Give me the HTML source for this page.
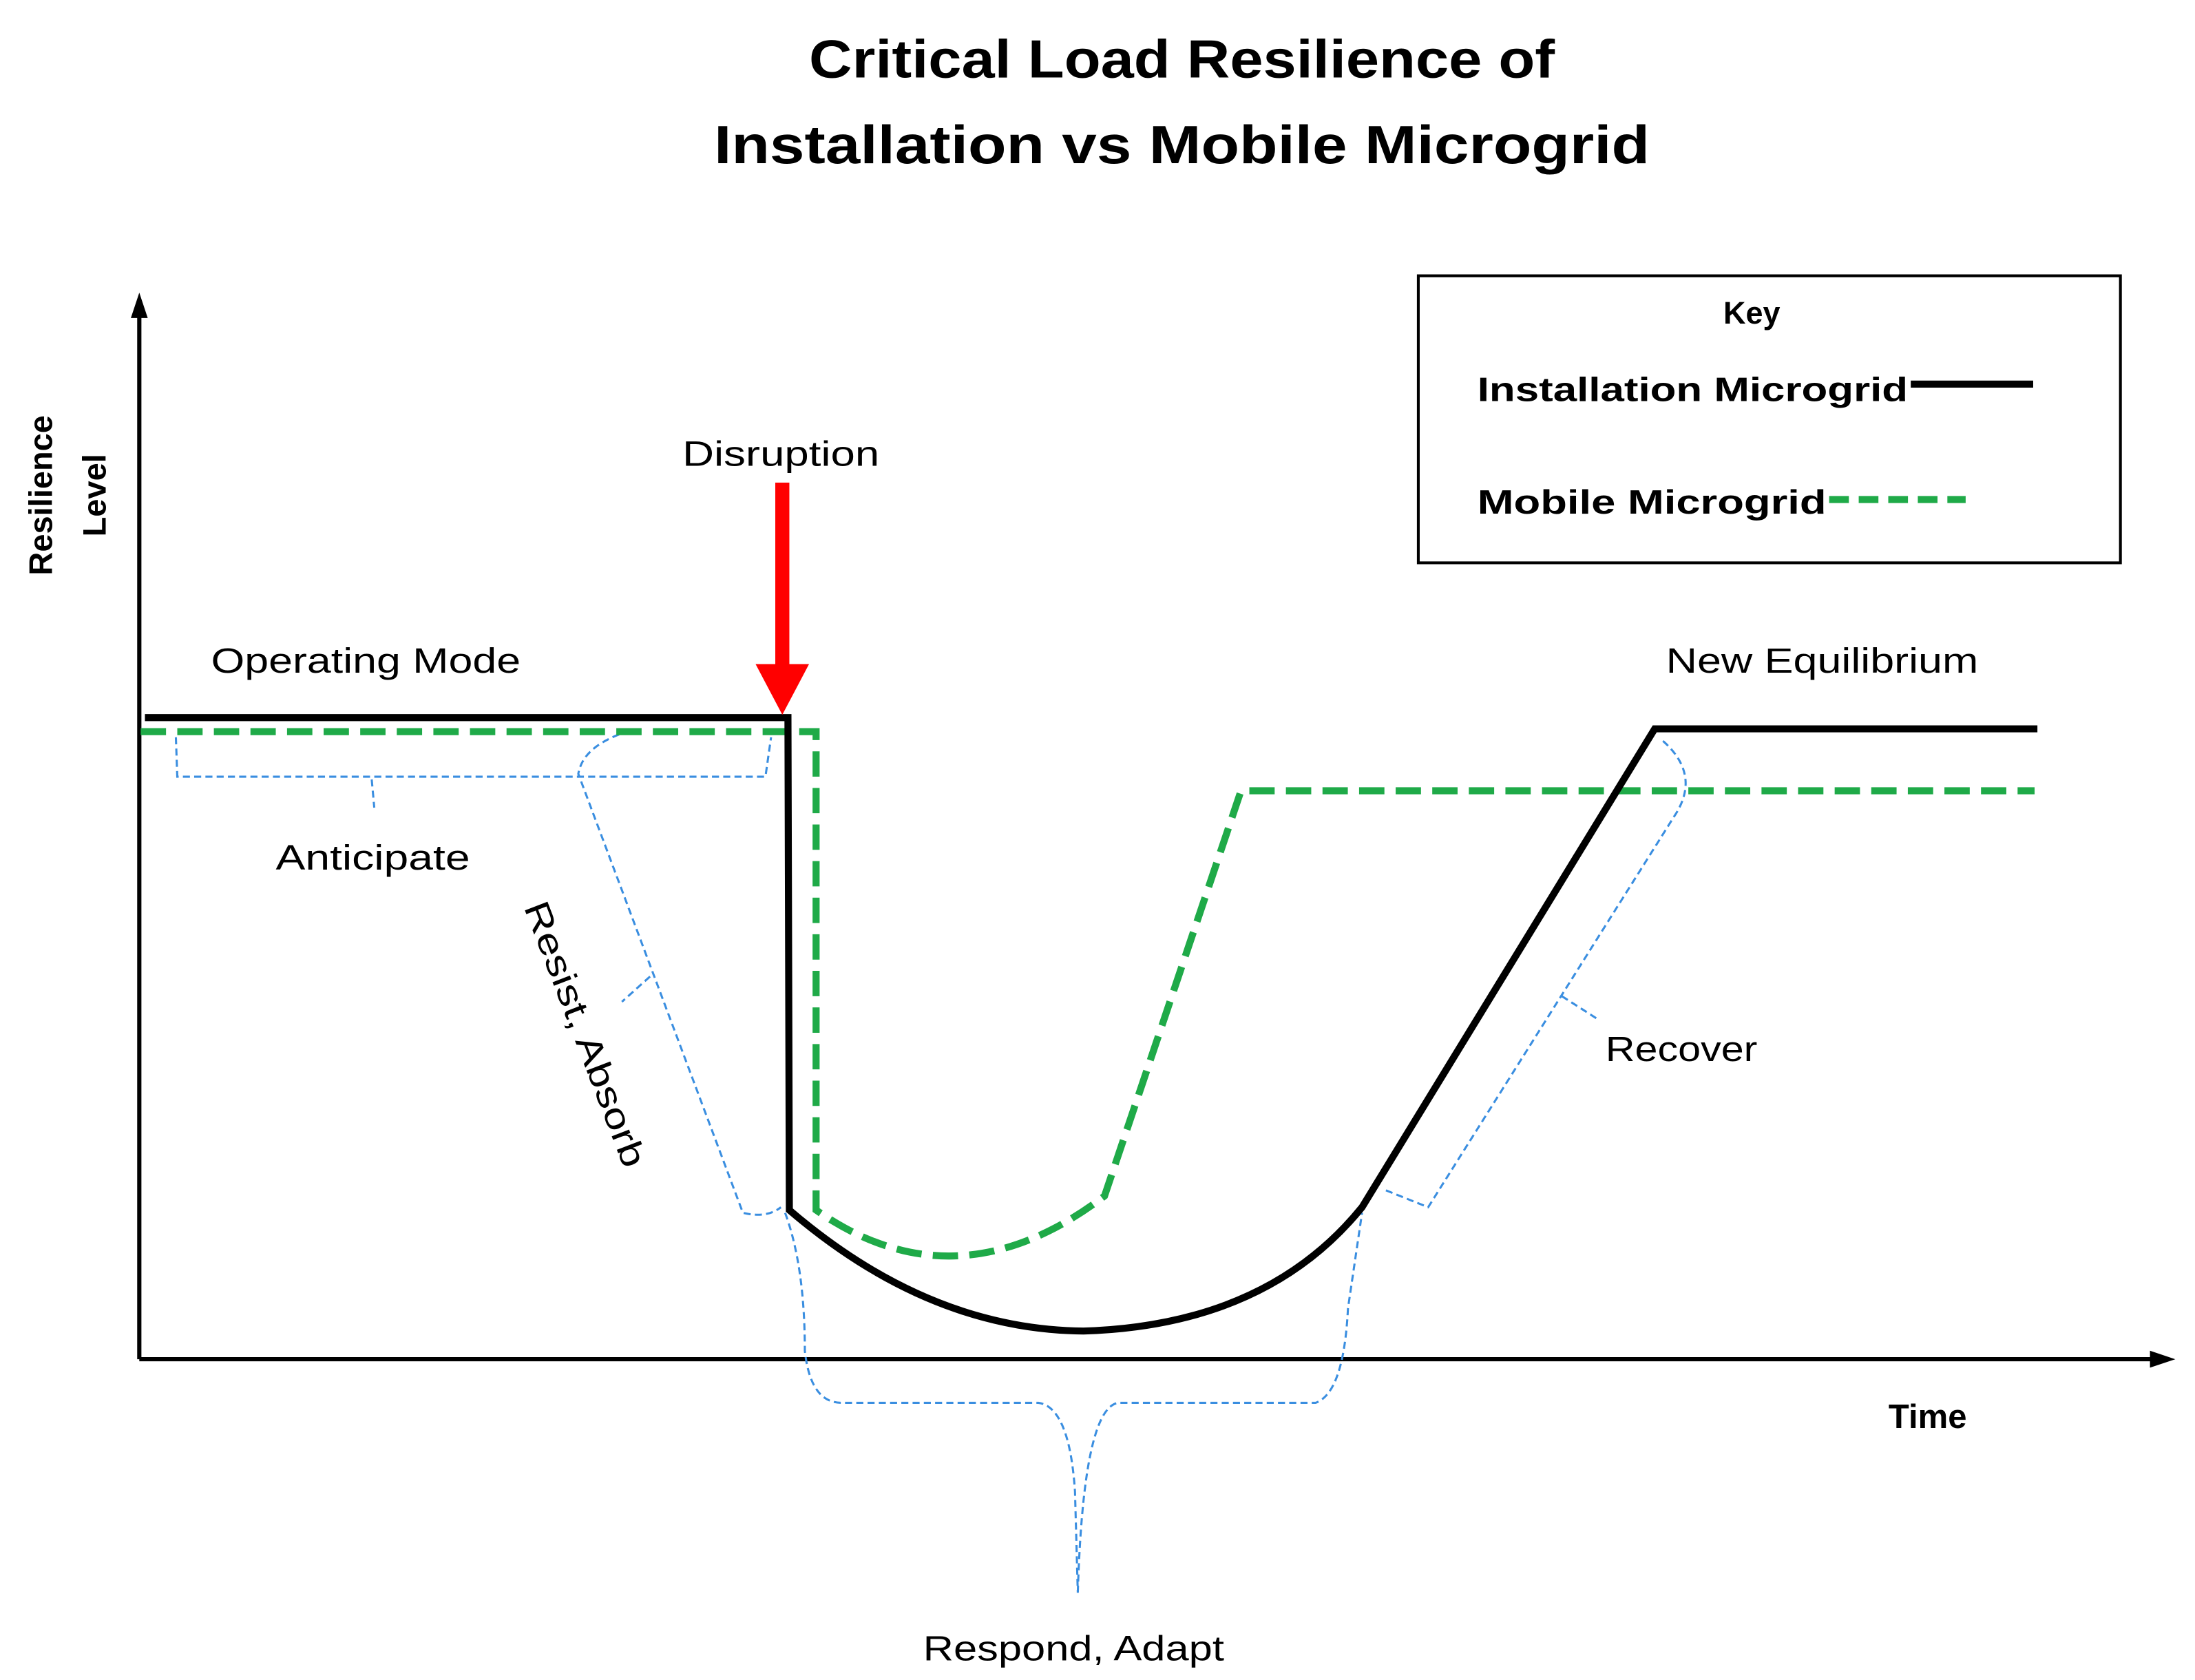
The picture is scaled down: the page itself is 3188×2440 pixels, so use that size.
<!DOCTYPE html>
<html><head><meta charset="utf-8"><style>
html,body{margin:0;padding:0;background:#fff;}
svg{display:block;}
text{font-family:"Liberation Sans",sans-serif;fill:#000;}
</style></head><body>
<svg width="3188" height="2440" viewBox="0 0 1560 1194" preserveAspectRatio="none" xmlns="http://www.w3.org/2000/svg">
<rect width="1560" height="1194" fill="#fff"/>
<text x="840" y="55" font-size="38" font-weight="bold" text-anchor="middle" textLength="530" lengthAdjust="spacingAndGlyphs">Critical Load Resilience of</text>
<text x="840" y="116" font-size="38" font-weight="bold" text-anchor="middle" textLength="665" lengthAdjust="spacingAndGlyphs">Installation vs Mobile Microgrid</text>

<!-- axes -->
<line x1="99" y1="966" x2="99" y2="222" stroke="#000" stroke-width="3"/>
<polygon points="99,208 93,226 105,226" fill="#000"/>
<line x1="99" y1="966" x2="1530" y2="966" stroke="#000" stroke-width="3"/>
<polygon points="1546,966 1528,960 1528,972" fill="#000"/>
<text transform="translate(37,352) rotate(-90)" font-size="23" font-weight="bold" text-anchor="middle">Resilience</text>
<text transform="translate(75,352) rotate(-90)" font-size="23" font-weight="bold" text-anchor="middle">Level</text>
<text x="1370" y="1015" font-size="24" font-weight="bold" text-anchor="middle">Time</text>

<!-- key -->
<rect x="1008" y="196" width="499" height="204" fill="none" stroke="#000" stroke-width="2"/>
<text x="1245" y="230" font-size="22" font-weight="bold" text-anchor="middle">Key</text>
<text x="1050" y="285" font-size="24" font-weight="bold" textLength="306" lengthAdjust="spacingAndGlyphs">Installation Microgrid</text>
<line x1="1358" y1="273" x2="1445" y2="273" stroke="#000" stroke-width="5"/>
<text x="1050" y="365" font-size="24" font-weight="bold" textLength="248" lengthAdjust="spacingAndGlyphs">Mobile Microgrid</text>
<line x1="1300" y1="355" x2="1397" y2="355" stroke="#1faa48" stroke-width="5" stroke-dasharray="14,7"/>

<!-- labels -->
<text x="555" y="331" font-size="25" text-anchor="middle" textLength="140" lengthAdjust="spacingAndGlyphs">Disruption</text>
<text x="260" y="478" font-size="25" text-anchor="middle" textLength="220" lengthAdjust="spacingAndGlyphs">Operating Mode</text>
<text x="1295" y="478" font-size="25" text-anchor="middle" textLength="222" lengthAdjust="spacingAndGlyphs">New Equilibrium</text>
<text x="265" y="618" font-size="25" text-anchor="middle" textLength="138" lengthAdjust="spacingAndGlyphs">Anticipate</text>
<text x="1195" y="754" font-size="25" text-anchor="middle" textLength="108" lengthAdjust="spacingAndGlyphs">Recover</text>
<text x="763" y="1180" font-size="25" text-anchor="middle" textLength="214" lengthAdjust="spacingAndGlyphs">Respond, Adapt</text>
<text transform="translate(408,738) rotate(69)" font-size="25" text-anchor="middle" textLength="200" lengthAdjust="spacingAndGlyphs">Resist, Absorb</text>

<!-- blue brackets -->
<g fill="none" stroke="#3a8ee0" stroke-width="1.5" stroke-dasharray="5,3">
<path d="M125,524 L126,552 L264,552 L266,574 M266,552 L544,552 L548,524"/>
<path d="M440,522 Q414,532 411,550 L528,862 Q545,866 555,858"/>
<path d="M462,694 L442,712"/>
<path d="M558,862 Q572,900 572,960 Q576,997 598,997 L738,997 Q760,1000 764,1060 L766,1132 M766,1132 Q770,1000 795,997 L935,997 Q955,990 958,930 L968,862"/>
<path d="M985,846 L1015,858 L1190,580 Q1210,550 1180,525"/>
<path d="M1110,708 L1135,724"/>
</g>

<!-- green mobile -->
<path d="M100,520 L580,520 L580,860 Q680,930 785,850 L882,562 L1446,562" fill="none" stroke="#1faa48" stroke-width="5" stroke-dasharray="18,8"/>

<!-- black installation -->
<path d="M103,510 L560,510 L561,860 Q660,945 770,946 Q900,942 968,858 L1176,518 L1448,518" fill="none" stroke="#000" stroke-width="5"/>

<!-- red arrow -->
<rect x="551" y="343" width="10" height="130" fill="#ff0000"/>
<polygon points="537,472 575,472 556,508" fill="#ff0000"/>
</svg>
</body></html>
